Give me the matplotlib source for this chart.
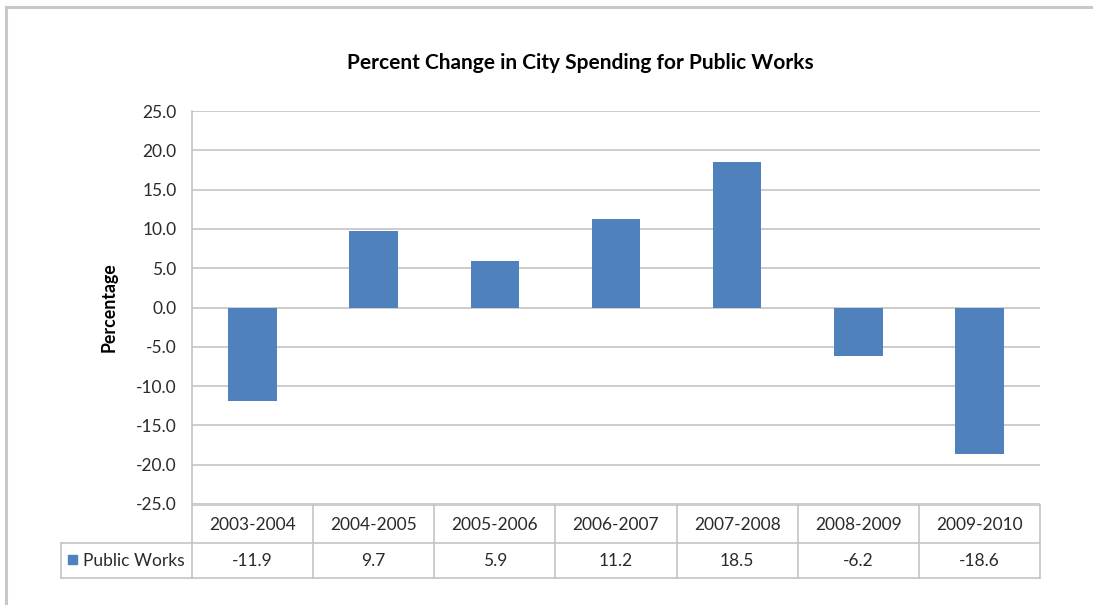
import matplotlib
matplotlib.use("Agg")
import matplotlib.pyplot as plt
from matplotlib.lines import Line2D
from matplotlib.patches import Rectangle
import numpy as np

# Data
periods = ["2003-2004", "2004-2005", "2005-2006", "2006-2007",
           "2007-2008", "2008-2009", "2009-2010"]
public_works = [-11.9, 9.7, 5.9, 11.2, 18.5, -6.2, -18.6]
series_name = "Public Works"
y_ticks = [25.0, 20.0, 15.0, 10.0, 5.0, 0.0, -5.0, -10.0, -15.0, -20.0, -25.0]

BAR = "#4F81BD"
GRID = "#C4C4C4"
TEXT = "#2A2A2A"
FONT = ["Lato", "DejaVu Sans"]
FS = 12.5

plt.rcParams["font.family"] = FONT

W, H = 1093, 605
fig = plt.figure(figsize=(W / 100, H / 100), dpi=100)
fig.patch.set_facecolor("white")

# plot area in pixels
L, R, T, B = 192, 1040, 111, 504
ax = fig.add_axes([L / W, 1 - B / H, (R - L) / W, (B - T) / H])

x = np.arange(len(periods))
ax.bar(x, public_works, width=0.4, color=BAR, zorder=3)

ax.set_xlim(-0.5, len(periods) - 0.5)
ax.set_ylim(min(y_ticks), max(y_ticks))
ax.set_yticks(y_ticks)
ax.set_yticklabels([f"{v:.1f}" for v in y_ticks], fontsize=FS, color=TEXT)
ax.set_xticks([])
ax.tick_params(axis="y", length=0, pad=11)
ax.grid(axis="y", color=GRID, linewidth=1.2, zorder=0)
for s in ["top", "right", "bottom"]:
    ax.spines[s].set_visible(False)
ax.spines["left"].set_color(GRID)
ax.spines["left"].set_linewidth(1.2)

ax.set_ylabel("Percentage", fontsize=12.8, fontweight="bold", color="black")
ax.yaxis.set_label_coords((118 - L) / (R - L), 0.5)

fig.text(580 / W, 1 - 63 / H, "Percent Change in City Spending for Public Works",
         ha="center", va="center", fontsize=15, fontweight="bold", color="black")

# data table below the plot, laid out in axes coordinates
def ay(py):
    return (B - py) / (B - T)

def axx(px):
    return (px - L) / (R - L)

row1_top, row1_bot, row2_bot = 505, 543, 578
legend_left = 61
lk = dict(color=GRID, linewidth=1.2, transform=ax.transAxes, clip_on=False)

ax.add_line(Line2D([0, 1], [ay(row1_top)] * 2, **lk))
ax.add_line(Line2D([axx(legend_left), 1], [ay(row1_bot)] * 2, **lk))
ax.add_line(Line2D([axx(legend_left), 1], [ay(row2_bot)] * 2, **lk))
ax.add_line(Line2D([axx(legend_left)] * 2, [ay(row1_bot), ay(row2_bot)], **lk))
n = len(periods)
for i in range(n + 1):
    ax.add_line(Line2D([i / n] * 2, [ay(row1_top), ay(row2_bot)], **lk))

for i, (p, v) in enumerate(zip(periods, public_works)):
    cx = (i + 0.5) / n
    ax.text(cx, ay((row1_top + row1_bot) / 2 + 1), p, transform=ax.transAxes,
            ha="center", va="center", fontsize=FS, color=TEXT)
    ax.text(cx, ay((row1_bot + row2_bot) / 2 + 1), f"{v:.1f}", transform=ax.transAxes,
            ha="center", va="center", fontsize=FS, color=TEXT)

# legend key in the row header
ax.add_patch(Rectangle((axx(68), ay(564)), 9 / (R - L), 9 / (B - T),
                       transform=ax.transAxes, color=BAR, clip_on=False))
ax.text(axx(83), ay((row1_bot + row2_bot) / 2 + 1), series_name, transform=ax.transAxes,
        ha="left", va="center", fontsize=FS, color=TEXT)

# chart area frame (top and left edges)
fig.add_artist(Line2D([6 / W, 1], [1 - 7 / H] * 2, transform=fig.transFigure,
                      color="#C8C8C8", linewidth=2.2))
fig.add_artist(Line2D([6 / W] * 2, [0, 1 - 7 / H], transform=fig.transFigure,
                      color="#C8C8C8", linewidth=2.2))

fig.savefig("out.png", dpi=100, facecolor="white")
